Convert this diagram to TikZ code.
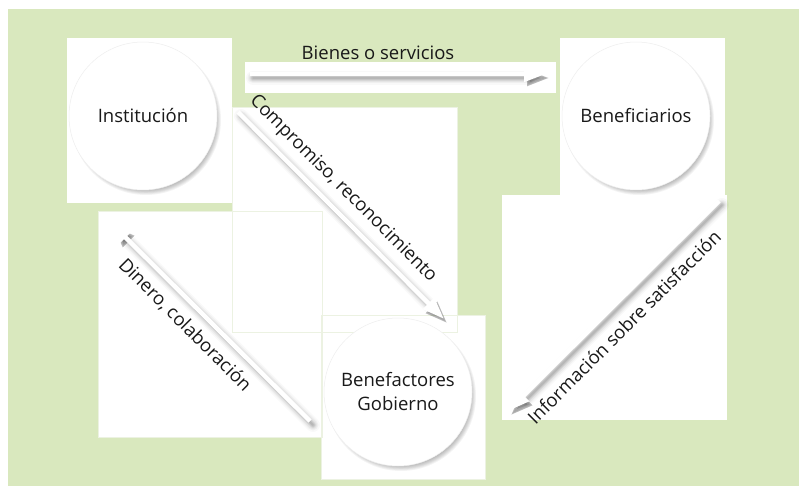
\documentclass[tikz,border=0pt]{standalone}
\usepackage{fontspec}
\setmainfont{Open Sans}
\usetikzlibrary{calc,arrows.meta}
\definecolor{bg}{RGB}{217,232,190}
\definecolor{edge}{RGB}{236,242,226}
\definecolor{ink}{RGB}{25,25,25}
\definecolor{rim}{RGB}{238,238,238}
\begin{document}
\begin{tikzpicture}[x=1pt,y=-1pt,
  box/.style={fill=white},
  boxedge/.style={draw=edge,line width=0.6pt},
  lbl/.style={font=\fontsize{18.5}{22}\selectfont, text=ink, inner sep=0pt},
  ball/.style={circle, fill=white, draw=rim, line width=0.5pt, minimum size=148pt, inner sep=0pt,
    font=\fontsize{18.5}{24}\selectfont, text=ink, align=center},
  flowshadow/.style={black, line cap=round, line join=round,
    -{Triangle[length=22pt,width=15pt]}},
  flow/.style={draw=white, line width=4.5pt, line join=round,
    -{Triangle[length=22pt,width=15pt]}},
]
\useasboundingbox (0,0) rectangle (799,486);
\fill[bg] (8,9) rectangle (799,486);

% white panels
\path[box] (67,38) rectangle (232,203);
\path[box] (245,62) rectangle (556,93);
\path[box] (560,38) rectangle (725,195);
\path[box] (232,107) rectangle (457,332);
\path[box] (98,211) rectangle (322,437);
\path[box] (321,315) rectangle (485,479);
\path[box] (502,195) rectangle (727,420);
\draw[boxedge] (232,107) rectangle (457,332);
\draw[boxedge] (98,211) rectangle (322,437);
\draw[boxedge] (321,315) rectangle (485,479);

% circle centres
\coordinate (cI) at (143,116);
\coordinate (cB) at (636,116);
\coordinate (cG) at (398,392);

% circle shadows
\foreach \c in {cI,cB,cG}{
  \foreach \k in {0,...,9}{
    \fill[black,opacity=0.045] ($(\c)+(3,4)$) circle[radius={(75-\k*0.9)*1pt}];
  }
}

\node[ball] (inst) at (cI) {Institución};
\node[ball] (bene) at (cB) {Beneficiarios};
\node[ball] (gob) at (cG) {Benefactores\\Gobierno};

% arrow end points
\coordinate (b1) at (250,74);
\coordinate (b2) at (546,74);
\coordinate (c1) at (238,112);
\coordinate (c2) at (444,319);
\coordinate (d1) at (310,421);
\coordinate (d2) at (110,222);
\coordinate (i1) at (719,201);
\coordinate (i2) at (508,411);

% arrow shadows (soft)
\foreach \s/\t in {b1/b2,c1/c2,d1/d2,i1/i2}{
  \foreach \w/\o in {14/0.025,11/0.035,8.5/0.045,6/0.06,4/0.07,2/0.08}{
    \draw[flowshadow, line width=\w pt, opacity=\o] ($(\s)+(3,4)$) -- ($(\t)+(3,4)$);
  }
}
% white arrows
\draw[flow] (b1) -- (b2);
\draw[flow] (c1) -- (c2);
\draw[flow] (d1) -- (d2);
\draw[flow] (i1) -- (i2);

% labels
\node[lbl] (tB) at (378,53) {Bienes o servicios};
\node[lbl, rotate=-45] (tC) at (343,189) {Compromiso, reconocimiento};
\node[lbl, rotate=-45] (tD) at (185,325) {Dinero, colaboración};
\node[lbl, rotate=45] (tI) at (624,327) {Información sobre satisfacción};
\end{tikzpicture}
\end{document}
